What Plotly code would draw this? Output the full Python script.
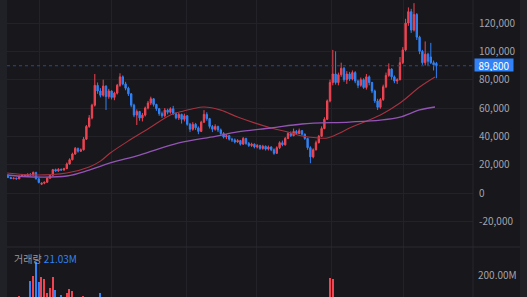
import plotly.graph_objects as go

# ---- candle data (prices in thousands of KRW), one entry per period ----
idx = list(range(154))
opens = [12.5, 11.0, 10.2, 10.5, 10.0, 11.8, 12.8, 12.0, 13.3, 12.5,
         14.5, 10.0, 6.2, 6.9, 7.6, 10.5, 12.5, 16.5, 15.5, 16.8,
         16.2, 17.2, 20.5, 23.5, 27.5, 31.5, 29.5, 30.5, 38.0, 47.0,
         53.0, 62.0, 76.0, 72.0, 69.0, 75.5, 68.0, 72.0, 67.5, 70.5,
         76.0, 82.0, 77.0, 74.0, 70.0, 62.0, 55.0, 57.5, 53.0, 55.0,
         60.0, 63.5, 66.5, 62.5, 59.5, 56.0, 54.5, 58.5, 57.0, 59.5,
         56.0, 53.0, 55.5, 52.0, 54.5, 48.5, 45.0, 48.5, 46.0, 43.5,
         50.0, 55.5, 52.5, 47.0, 45.0, 47.0, 44.5, 42.0, 39.5, 40.5,
         38.0, 37.5, 36.0, 37.0, 34.5, 38.5, 35.0, 33.5, 34.5, 32.5,
         33.5, 31.5, 33.0, 31.0, 32.5, 30.5, 28.0, 32.0, 35.5, 34.0,
         38.5, 42.0, 40.5, 43.5, 42.0, 44.0, 41.5, 38.5, 32.0, 25.5,
         30.5, 35.5, 40.0, 45.5, 52.0, 65.0, 78.0, 84.0, 78.0, 83.5,
         88.0, 80.0, 84.0, 80.5, 85.0, 79.0, 76.0, 80.0, 74.5, 82.0,
         78.0, 72.0, 65.0, 60.5, 66.0, 75.0, 83.0, 87.5, 82.0, 79.0,
         80.0, 92.0, 101.0, 120.0, 128.0, 115.0, 126.0, 110.0, 100.0, 92.0,
         98.0, 96.0, 92.0, 91.5]
highs = [13.0, 11.5, 11.0, 10.8, 12.3, 13.5, 13.2, 13.8, 14.0, 15.2,
         15.0, 10.5, 7.5, 8.0, 11.0, 13.0, 17.0, 17.2, 17.5, 17.2,
         17.8, 21.5, 24.5, 28.5, 32.5, 32.0, 31.5, 39.5, 48.0, 55.0,
         63.0, 84.0, 78.0, 74.0, 80.0, 76.0, 73.5, 72.5, 71.5, 77.0,
         84.5, 83.0, 78.5, 75.0, 70.5, 63.0, 59.0, 58.0, 56.5, 61.0,
         65.0, 68.0, 67.0, 63.0, 60.0, 57.5, 60.0, 59.5, 60.5, 61.5,
         57.0, 56.5, 56.0, 56.0, 55.0, 49.5, 50.0, 49.5, 47.0, 51.0,
         58.5, 57.0, 53.0, 48.0, 48.5, 47.5, 45.5, 43.0, 41.5, 41.0,
         39.0, 38.5, 38.0, 37.5, 39.5, 39.0, 36.0, 35.5, 35.0, 34.5,
         34.0, 34.0, 33.5, 33.5, 33.0, 31.5, 33.0, 36.5, 37.0, 39.5,
         43.0, 43.5, 45.5, 44.5, 45.5, 44.5, 42.0, 39.0, 33.0, 31.5,
         37.0, 41.0, 47.0, 53.5, 66.0, 80.0, 101.0, 100.0, 85.0, 92.0,
         89.0, 86.0, 85.5, 86.5, 86.0, 80.0, 81.5, 81.0, 84.0, 83.0,
         78.5, 73.0, 66.5, 67.0, 76.5, 85.0, 91.5, 88.0, 83.0, 81.0,
         96.0, 103.0, 123.0, 131.0, 130.0, 134.0, 127.0, 111.0, 101.0, 107.0,
         99.0, 106.0, 93.5, 92.5]
lows = [10.5, 9.8, 9.6, 9.5, 9.8, 11.3, 11.5, 11.6, 12.0, 12.2,
        9.5, 6.8, 5.6, 6.2, 7.2, 10.0, 12.0, 15.0, 15.0, 15.8,
        15.8, 16.8, 20.0, 23.0, 27.0, 28.5, 29.0, 30.0, 37.5, 46.0,
        52.0, 61.0, 70.0, 67.5, 68.0, 58.6, 66.5, 66.0, 65.5, 69.5,
        75.0, 76.0, 72.5, 68.5, 60.5, 53.5, 48.0, 51.0, 50.5, 54.0,
        59.0, 62.0, 61.0, 58.0, 54.5, 53.0, 53.5, 55.5, 56.0, 55.0,
        52.0, 51.5, 49.0, 50.5, 47.5, 43.0, 44.0, 44.5, 41.5, 43.0,
        49.5, 51.0, 45.5, 43.0, 44.0, 43.0, 41.0, 38.5, 38.0, 37.0,
        36.0, 35.0, 35.5, 33.5, 34.0, 34.0, 32.5, 32.5, 31.5, 31.5,
        30.5, 30.5, 30.0, 30.0, 29.5, 27.0, 27.5, 31.0, 33.0, 33.5,
        38.0, 39.5, 40.0, 41.0, 41.5, 40.5, 37.5, 30.5, 21.0, 24.5,
        30.0, 35.0, 39.5, 45.0, 51.5, 64.0, 76.0, 76.5, 76.0, 82.0,
        78.5, 77.0, 79.0, 79.5, 77.5, 74.0, 75.0, 73.5, 73.0, 76.0,
        70.5, 63.5, 58.6, 59.5, 65.0, 74.0, 82.0, 80.0, 77.5, 77.0,
        79.5, 91.0, 100.0, 118.0, 113.0, 114.0, 108.0, 98.0, 90.5, 90.0,
        90.0, 91.0, 86.5, 81.0]
closes = [11.0, 10.2, 10.5, 10.0, 11.8, 12.8, 12.0, 13.3, 12.5, 14.5,
          10.0, 7.5, 6.9, 7.6, 10.5, 12.5, 16.5, 15.5, 16.8, 16.2,
          17.2, 20.5, 23.5, 27.5, 31.5, 29.5, 30.5, 38.0, 47.0, 53.0,
          62.0, 76.0, 72.0, 69.0, 75.5, 68.0, 72.0, 67.5, 70.5, 76.0,
          82.0, 77.0, 74.0, 70.0, 62.0, 55.0, 57.5, 53.0, 55.0, 60.0,
          63.5, 66.5, 62.5, 59.5, 56.0, 54.5, 58.5, 57.0, 59.5, 56.0,
          53.0, 55.5, 52.0, 54.5, 48.5, 45.0, 48.5, 46.0, 43.5, 50.0,
          55.5, 52.5, 47.0, 45.0, 47.0, 44.5, 42.0, 39.5, 40.5, 38.0,
          37.5, 36.0, 37.0, 34.5, 38.5, 35.0, 33.5, 34.5, 32.5, 33.5,
          31.5, 33.0, 31.0, 32.5, 30.5, 28.0, 32.0, 35.5, 34.0, 38.5,
          42.0, 40.5, 43.5, 42.0, 44.0, 41.5, 38.5, 32.0, 25.5, 30.5,
          35.5, 40.0, 45.5, 52.0, 65.0, 78.0, 84.0, 78.0, 83.5, 88.0,
          80.0, 84.0, 80.5, 85.0, 79.0, 76.0, 80.0, 74.5, 82.0, 78.0,
          72.0, 65.0, 60.5, 66.0, 75.0, 83.0, 87.5, 82.0, 79.0, 80.0,
          92.0, 101.0, 120.0, 128.0, 115.0, 126.0, 110.0, 100.0, 92.0, 98.0,
          93.0, 92.0, 90.5, 89.8]
# volume in millions of shares
volumes = [45, 38, 30, 42, 104, 60, 55, 70, 173, 195,
           260, 168, 191, 182, 118, 141, 191, 132, 90, 109,
           85, 118, 136, 127, 80, 70, 75, 105, 95, 92,
           88, 98, 90, 118, 85, 80, 70, 65, 60, 75,
           80, 70, 60, 55, 65, 70, 75, 55, 50, 52,
           55, 58, 50, 45, 42, 40, 45, 38, 40, 42,
           40, 38, 42, 40, 45, 50, 48, 40, 42, 55,
           70, 55, 50, 42, 38, 35, 34, 36, 32, 30,
           30, 28, 30, 28, 40, 35, 30, 28, 27, 26,
           26, 25, 24, 25, 26, 40, 45, 50, 40, 55,
           60, 50, 55, 45, 48, 42, 45, 60, 85, 70,
           65, 70, 80, 85, 95, 186, 182, 90, 85, 80,
           70, 60, 55, 50, 48, 45, 50, 45, 55, 50,
           48, 55, 60, 52, 58, 62, 70, 55, 45, 42,
           70, 85, 95, 98, 90, 92, 80, 70, 60, 55,
           45, 50, 40, 21.03]

# moving averages (index, value in thousands)
ma_fast_idx = [-0.3, 9, 21, 29, 33, 36.5, 43.5, 50.5, 58, 62, 66, 70, 76, 82, 88, 94,
               100, 105, 110, 114, 118.5, 122, 127, 133, 140, 147, 152.5]
ma_fast = [14.1, 12.7, 14.1, 18.4, 22.5, 28.2, 37.4, 45.9, 55.1, 57.5, 59.5, 60.7, 58.5,
           53.6, 49.5, 45.9, 43.0, 40.2, 39.0, 38.8, 42.4, 45.9, 50.0, 55.1, 63.5, 74.8, 81.9]
ma_slow_idx = [-0.3, 9, 21, 29, 36.5, 47, 61, 74, 82, 94, 105, 122, 133, 140, 147, 152.5]
ma_slow = [12.7, 11.3, 12.0, 16.2, 21.2, 26.8, 35.3, 40.0, 43.1, 45.9, 48.7, 50.1, 51.5,
           53.6, 58.6, 60.7]

last_price = 89.8
last_price_text = "89,800"
price_ticks = [-20, 0, 20, 40, 60, 80, 100, 120]
price_tick_text = ["-20,000", "0", "20,000", "40,000", "60,000", "80,000", "100,000", "120,000"]
vol_ticks = [200]
vol_tick_text = ["200.00M"]
grid_ticks = [11.4, 37.1, 63.6, 88.9, 115.4, 141.4]
vol_label = "거래량"
vol_value_text = "21.03M"

UP = "#f04452"
DOWN = "#3182f6"
BG = "#17171c"
GRID = "#222228"
EDGE = "#202027"
FONT = "Noto Sans CJK KR, Noto Sans, sans-serif"

W, H = 527, 297
L, R = 7, 54
plot_w = W - L - R
split = 50 / H

vol_colors = [UP if c >= o else DOWN for o, c in zip(opens, closes)]

fig = go.Figure()
fig.add_trace(go.Candlestick(
    x=idx, open=opens, high=highs, low=lows, close=closes,
    increasing=dict(line=dict(color=UP, width=1), fillcolor=UP),
    decreasing=dict(line=dict(color=DOWN, width=1), fillcolor=DOWN),
    whiskerwidth=0, xaxis="x", yaxis="y", showlegend=False, hoverinfo="skip"))
fig.add_trace(go.Scatter(x=ma_fast_idx, y=ma_fast, mode="lines",
                         line=dict(color="#a8323f", width=1.1, shape="spline"),
                         xaxis="x", yaxis="y", showlegend=False, hoverinfo="skip"))
fig.add_trace(go.Scatter(x=ma_slow_idx, y=ma_slow, mode="lines",
                         line=dict(color="#9454b5", width=1.3, shape="spline"),
                         xaxis="x", yaxis="y", showlegend=False, hoverinfo="skip"))
fig.add_trace(go.Bar(x=idx, y=volumes, marker=dict(color=vol_colors, line=dict(width=0)),
                     width=0.55, xaxis="x2", yaxis="y2", showlegend=False, hoverinfo="skip"))

x_range = [-1 / 2.8, -1 / 2.8 + plot_w / 2.8]
axis_common = dict(range=x_range, showticklabels=False, tickvals=grid_ticks,
                   showgrid=True, gridcolor=GRID, gridwidth=1, zeroline=False,
                   showline=False, ticks="")

fig.update_layout(
    width=W, height=H,
    margin=dict(l=L, r=R, t=0, b=0, pad=0),
    paper_bgcolor=BG, plot_bgcolor=BG,
    font=dict(family=FONT, color="#a3a3ab", size=10),
    xaxis=dict(domain=[0, 1], anchor="y", rangeslider=dict(visible=False), **axis_common),
    xaxis2=dict(domain=[0, 1], anchor="y2", matches="x", **axis_common),
    yaxis=dict(domain=[split, 1], range=[-54 * 120 / 170, 193 * 120 / 170], side="right",
               tickvals=price_ticks, ticktext=price_tick_text, showgrid=True,
               gridcolor=GRID, zeroline=False, showline=False, ticks="",
               ticklabelstandoff=5, tickfont=dict(size=10, color="#a3a3ab")),
    yaxis2=dict(domain=[0, split], range=[100, 100 + 50 / 22 * 100], side="right",
                tickvals=vol_ticks, ticktext=vol_tick_text, showgrid=False,
                zeroline=False, showline=False, ticks="", ticklabelstandoff=4,
                tickfont=dict(size=10, color="#a3a3ab")),
    bargap=0,
    shapes=[
        dict(type="rect", xref="paper", yref="paper", x0=-L / plot_w, x1=0, y0=0, y1=1,
             fillcolor=EDGE, line=dict(width=0), layer="below"),
        dict(type="rect", xref="paper", yref="paper", x0=(520 - L) / plot_w,
             x1=(W - L) / plot_w, y0=0, y1=1, fillcolor=EDGE, line=dict(width=0), layer="below"),
        dict(type="line", xref="paper", yref="paper", x0=0, x1=(520 - L) / plot_w,
             y0=split, y1=split, line=dict(color="#2a2a31", width=1)),
        dict(type="line", xref="paper", yref="paper", x0=1, x1=1, y0=0, y1=1,
             line=dict(color="#26262c", width=1)),
        dict(type="line", xref="paper", yref="y", x0=0, x1=1, y0=last_price, y1=last_price,
             line=dict(color="#2b4d82", width=1, dash="dot")),
    ],
    annotations=[
        dict(xref="paper", yref="y", x=1, y=last_price, xanchor="left", yanchor="middle",
             text=last_price_text, showarrow=False, bgcolor=DOWN, borderpad=0, xshift=1,
             yshift=1, height=12, width=38,
             font=dict(color="#ffffff", size=10, family=FONT)),
        dict(xref="paper", yref="paper", x=(12 - L) / plot_w, y=(H - 258) / H,
             xanchor="left", yanchor="middle", showarrow=False,
             text=f"<span style='color:#9a9aa0'>{vol_label}</span> "
                  f"<span style='color:{DOWN}'>{vol_value_text}</span>",
             font=dict(size=10, family=FONT)),
    ],
)

fig.write_html("out.html")
